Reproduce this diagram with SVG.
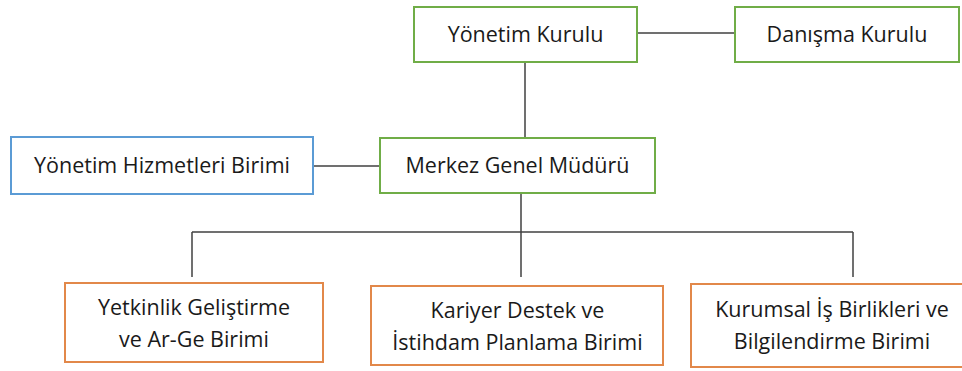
<svg xmlns="http://www.w3.org/2000/svg" width="962" height="371" viewBox="0 0 962 371">
<style>
.box{fill:#ffffff;stroke-width:2}
.g{stroke:#70AD47}
.b{stroke:#5B9BD5}
.o{stroke:#E2884A}
.t{font-family:"Open Sans","Noto Sans",sans-serif;font-size:21.5px;fill:#1a1a1a;text-anchor:middle}
.c{stroke:#404040;stroke-width:1.5;fill:none}
</style>
<rect width="962" height="371" fill="#ffffff"/>
<g id="connectors">
<line class="c" x1="637" y1="33" x2="735" y2="33"/>
<line class="c" x1="525" y1="62" x2="525" y2="138"/>
<line class="c" x1="313" y1="166" x2="380" y2="166"/>
<line class="c" x1="521" y1="193" x2="521" y2="277"/>
<line class="c" x1="192" y1="232" x2="853" y2="232"/>
<line class="c" x1="192" y1="232" x2="192" y2="277"/>
<line class="c" x1="853" y1="232" x2="853" y2="277"/>
</g>
<g id="yonetim-kurulu">
<rect class="box g" x="414" y="7" width="223" height="55"/>
<text class="t" x="525.5" y="42">Yönetim Kurulu</text>
</g>
<g id="danisma-kurulu">
<rect class="box g" x="735" y="7" width="224" height="55"/>
<text class="t" x="847" y="42">Danışma Kurulu</text>
</g>
<g id="yonetim-hizmetleri">
<rect class="box b" x="11" y="137" width="302" height="57"/>
<text class="t" x="162" y="173">Yönetim Hizmetleri Birimi</text>
</g>
<g id="merkez-genel-muduru">
<rect class="box g" x="380" y="138" width="275" height="55"/>
<text class="t" x="517.5" y="173">Merkez Genel Müdürü</text>
</g>
<g id="yetkinlik">
<rect class="box o" x="65" y="283" width="258" height="79"/>
<text class="t" x="194" y="315">Yetkinlik Geliştirme</text>
<text class="t" x="194" y="347">ve Ar-Ge Birimi</text>
</g>
<g id="kariyer">
<rect class="box o" x="371" y="286" width="292" height="79"/>
<text class="t" x="517.5" y="318">Kariyer Destek ve</text>
<text class="t" x="517.5" y="350">İstihdam Planlama Birimi</text>
</g>
<g id="kurumsal">
<rect class="box o" x="691" y="284" width="275" height="83"/>
<text class="t" x="832" y="317">Kurumsal İş Birlikleri ve</text>
<text class="t" x="832" y="349">Bilgilendirme Birimi</text>
</g>
</svg>
